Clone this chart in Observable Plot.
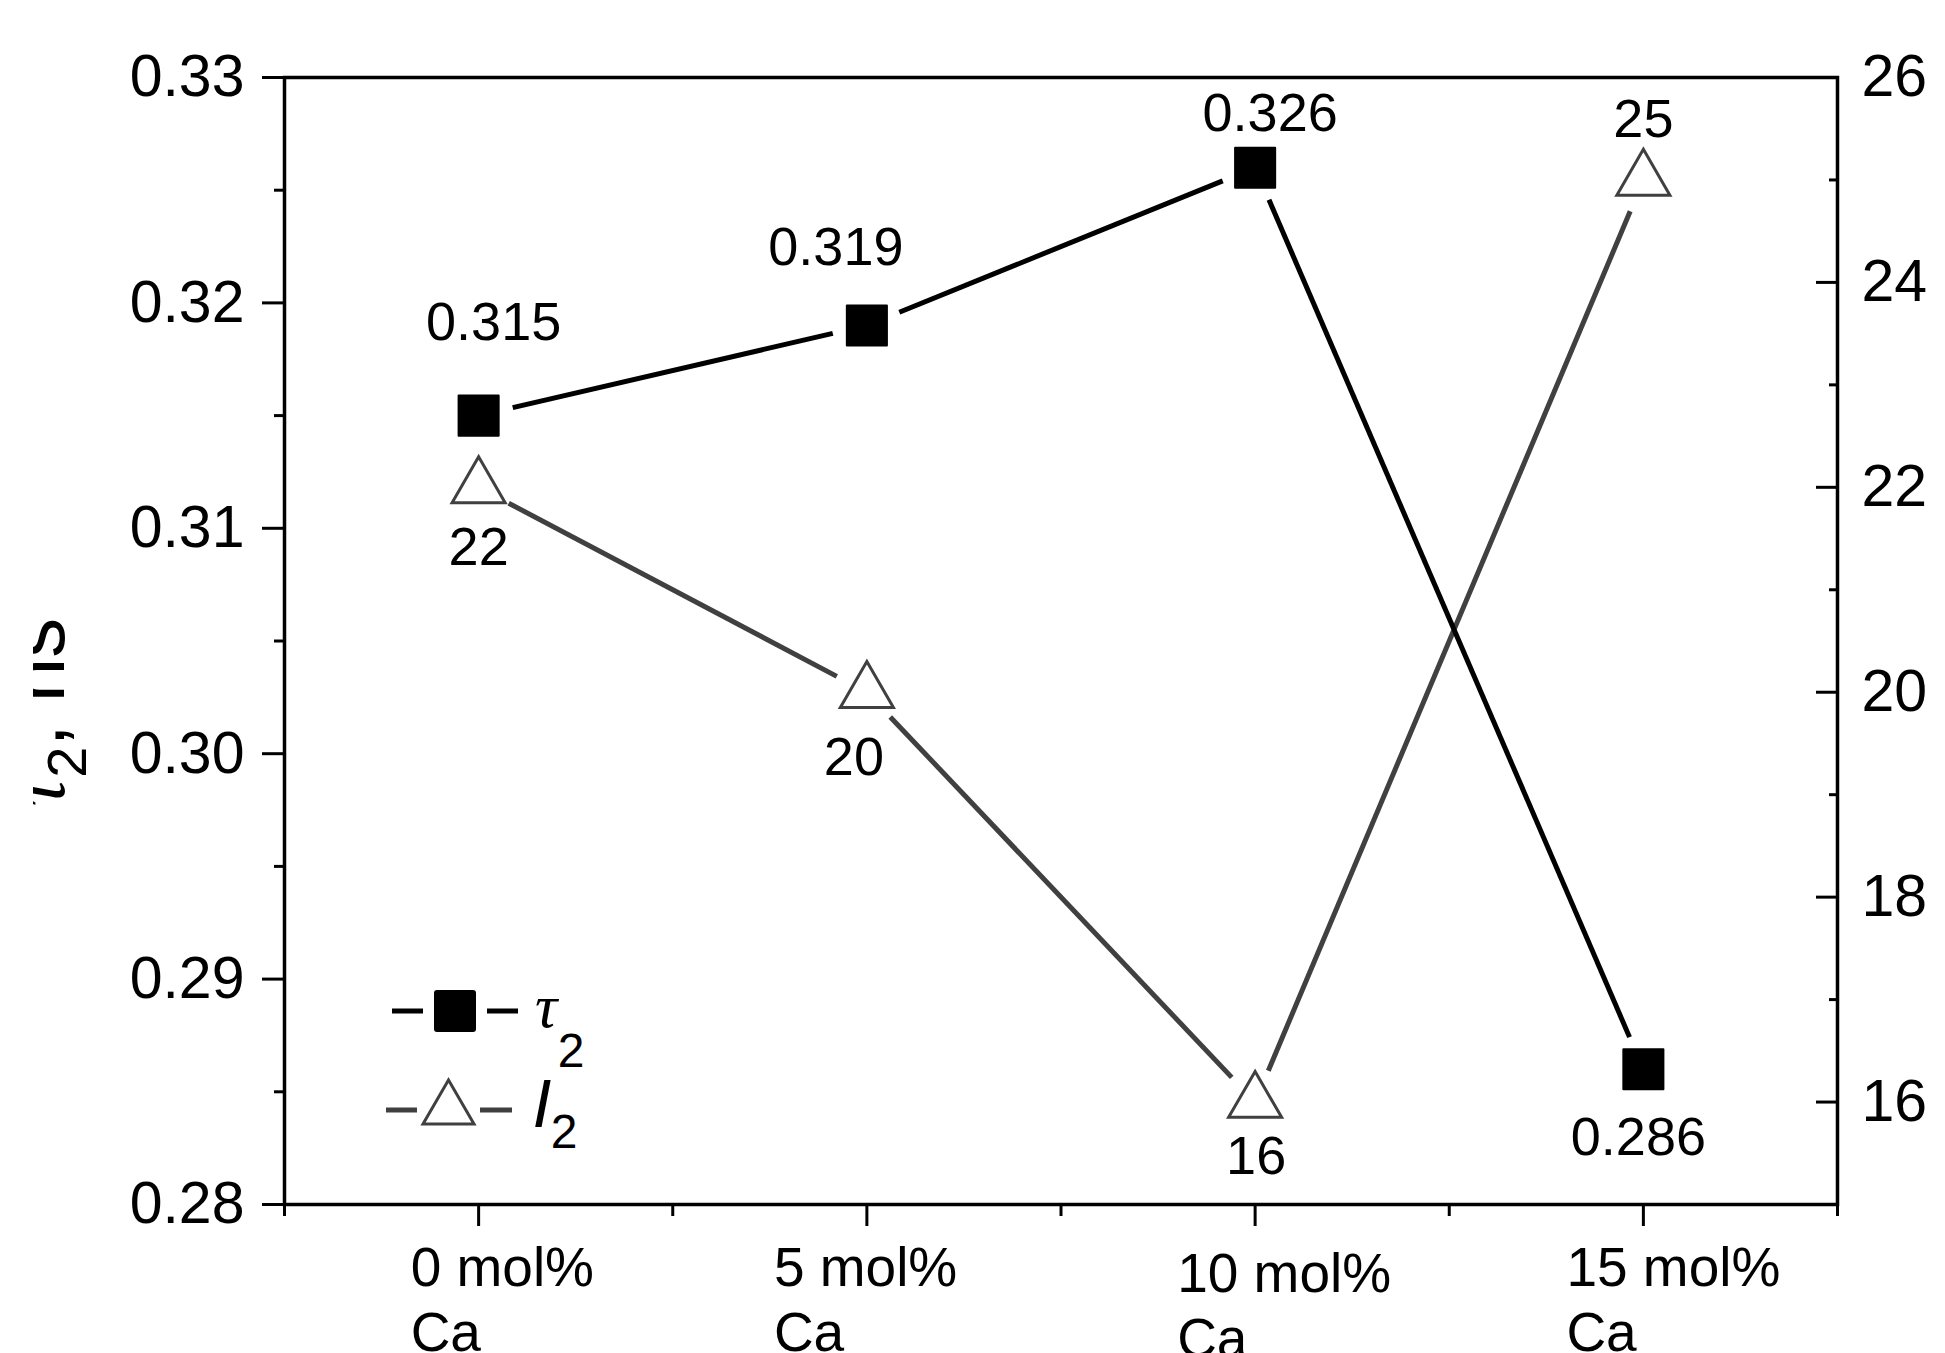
<!DOCTYPE html>
<html>
<head>
<meta charset="utf-8">
<script src="https://cdn.jsdelivr.net/npm/d3@7"></script>
<script src="https://cdn.jsdelivr.net/npm/@observablehq/plot@0.6"></script>
<style>
  html, body { margin: 0; padding: 0; background: #fff; }
</style>
</head>
<body>
<script>
// ---- data ----
const categories = ["0 mol%\nCa", "5 mol%\nCa", "10 mol%\nCa", "15 mol%\nCa"];
const tau2 = [0.315, 0.319, 0.326, 0.286];
const i2 = [22, 20, 16, 25];
const tau2Labels = ["0.315", "0.319", "0.326", "0.286"];
const i2Labels = ["22", "20", "16", "25"];
const leftTicks = [0.28, 0.29, 0.30, 0.31, 0.32, 0.33];
const leftMinor = [0.285, 0.295, 0.305, 0.315, 0.325];
const rightTicks = [16, 18, 20, 22, 24, 26];
const rightMinor = [15, 17, 19, 21, 23, 25];
const leftDomain = [0.28, 0.33];
const rightDomain = [15, 26];

// ---- styling / layout (not data) ----
const tauLabelOffset = [[15, -93], [-31, -78], [15, -54], [-5, 68]];
const i2LabelOffset = [[0, 60], [-13, 65], [1, 55], [0, -60]];
const xLabelDx = [-68, -93, -78, -77];
const xLabelDy = [0, 0, 6, 0];
const font = "'Liberation Sans', Arial, sans-serif";

const idx = d3.range(categories.length);
const r2l = d3.scaleLinear(rightDomain, leftDomain);
const l2r = r2l.invert;

const marks = [];
marks.push(Plot.frame({stroke: "black", strokeWidth: 3.5}));
// left axis
marks.push(Plot.axisY({ticks: leftTicks, tickSize: 22, tickPadding: 18, tickFormat: d3.format(".2f"), fontSize: 59, strokeWidth: 3, label: null}));
marks.push(Plot.axisY({ticks: leftMinor, tickSize: 10, tickFormat: () => "", strokeWidth: 3, label: null}));
// right axis (ticks inward)
marks.push(Plot.axisY({anchor: "right", ticks: rightTicks.map(r2l), tickSize: 22, dx: -22, tickFormat: () => "", strokeWidth: 3, label: null}));
marks.push(Plot.axisY({anchor: "right", ticks: rightMinor.map(r2l), tickSize: 9, dx: -9, tickFormat: () => "", strokeWidth: 3, label: null}));
marks.push(Plot.axisY({anchor: "right", ticks: rightTicks.map(r2l), tickSize: 0, tickPadding: 24, tickFormat: v => String(Math.round(l2r(v))), fontSize: 59, label: null}));
// bottom axis
marks.push(Plot.axisX({ticks: idx, tickSize: 22, tickFormat: () => "", strokeWidth: 3, label: null}));
marks.push(Plot.axisX({ticks: [-0.5, 0.5, 1.5, 2.5, 3.5], tickSize: 12, tickFormat: () => "", strokeWidth: 3, label: null}));
idx.forEach(i => {
  marks.push(Plot.text([i], {
    x: d => d, text: d => categories[d], frameAnchor: "bottom",
    textAnchor: "start", lineAnchor: "middle", lineHeight: 1.18,
    dx: xLabelDx[i], dy: 93 + xLabelDy[i], fontSize: 55, fill: "black"
  }));
});
// lines with gaps near markers
const pairs = d3.pairs(idx);
marks.push(Plot.arrow(pairs, {
  x1: d => d[0], y1: d => r2l(i2[d[0]]), x2: d => d[1], y2: d => r2l(i2[d[1]]),
  headLength: 0, inset: 34, stroke: "#404040", strokeWidth: 5, strokeLinecap: "butt", bend: 0
}));
marks.push(Plot.arrow(pairs, {
  x1: d => d[0], y1: d => tau2[d[0]], x2: d => d[1], y2: d => tau2[d[1]],
  headLength: 0, inset: 35, stroke: "black", strokeWidth: 5, strokeLinecap: "butt", bend: 0
}));
// markers
marks.push(Plot.dot(idx, {x: i => i, y: i => r2l(i2[i]), symbol: "triangle", r: 19.7, fill: "white", stroke: "#404040", strokeWidth: 3}));
marks.push(Plot.dot(idx, {x: i => i, y: i => tau2[i], symbol: "square", r: 22.6, fill: "black", stroke: "black", strokeWidth: 2, strokeLinejoin: "round"}));
// value labels
idx.forEach(i => {
  marks.push(Plot.text([i], {x: d => d, y: d => tau2[d], text: d => tau2Labels[d], dx: tauLabelOffset[i][0], dy: tauLabelOffset[i][1], fontSize: 54, fill: "black"}));
  marks.push(Plot.text([i], {x: d => d, y: d => r2l(i2[d]), text: d => i2Labels[d], dx: i2LabelOffset[i][0], dy: i2LabelOffset[i][1], fontSize: 54, fill: "black"}));
});

const svg = Plot.plot({
  width: 1945,
  height: 1353,
  marginLeft: 284,
  marginRight: 108,
  marginTop: 77,
  marginBottom: 149,
  style: {fontFamily: font, background: "white", color: "black", overflow: "visible"},
  x: {type: "linear", domain: [-0.5, 3.5]},
  y: {domain: leftDomain},
  marks
});
document.body.append(svg);

// ---- legend and clipped y-axis title (decoration) ----
const s = d3.select(svg);
const lg = s.append("g");
// row 1: tau2
lg.append("line").attr("x1", 392).attr("x2", 423).attr("y1", 1011).attr("y2", 1011).attr("stroke", "black").attr("stroke-width", 5);
lg.append("line").attr("x1", 487).attr("x2", 518).attr("y1", 1011).attr("y2", 1011).attr("stroke", "black").attr("stroke-width", 5);
lg.append("rect").attr("x", 435).attr("y", 991).attr("width", 40).attr("height", 40).attr("rx", 2)
  .attr("fill", "black").attr("stroke", "black").attr("stroke-width", 2);
lg.append("text").attr("x", 546).attr("y", 1027).attr("font-family", "'Liberation Serif', serif").attr("font-style", "italic").attr("font-size", 62).text("τ");
lg.append("text").attr("x", 571).attr("y", 1067).attr("font-family", font).attr("font-size", 48).text("2");
// row 2: I2
lg.append("line").attr("x1", 386).attr("x2", 417).attr("y1", 1110).attr("y2", 1110).attr("stroke", "#404040").attr("stroke-width", 5);
lg.append("line").attr("x1", 480).attr("x2", 512).attr("y1", 1110).attr("y2", 1110).attr("stroke", "#404040").attr("stroke-width", 5);
lg.append("path").attr("d", "M448.5,1080 L474,1124 L423,1124 Z").attr("fill", "white").attr("stroke", "#404040").attr("stroke-width", 3);
lg.append("text").attr("x", 542).attr("y", 1127).attr("font-family", font).attr("font-style", "italic").attr("font-size", 68).text("I");
lg.append("text").attr("x", 564).attr("y", 1148).attr("font-family", font).attr("font-size", 48).text("2");

// y-axis title, partly cut off at the left as in the reference
const defs = s.append("defs");
defs.append("clipPath").attr("id", "ytitle-clip").append("rect").attr("x", 33).attr("y", 0).attr("width", 200).attr("height", 1353);
const tg = s.append("g").attr("clip-path", "url(#ytitle-clip)")
  .append("g").attr("transform", "translate(64,712) rotate(-90)");
const tt = tg.append("text").attr("text-anchor", "middle").attr("font-family", font).attr("font-size", 80);
tt.append("tspan").attr("font-family", "'Liberation Serif', serif").attr("font-style", "italic").text("τ");
tt.append("tspan").attr("font-size", 56).attr("dy", 22).text("2");
tt.append("tspan").attr("dy", -22).text(", ns");
</script>
</body>
</html>
